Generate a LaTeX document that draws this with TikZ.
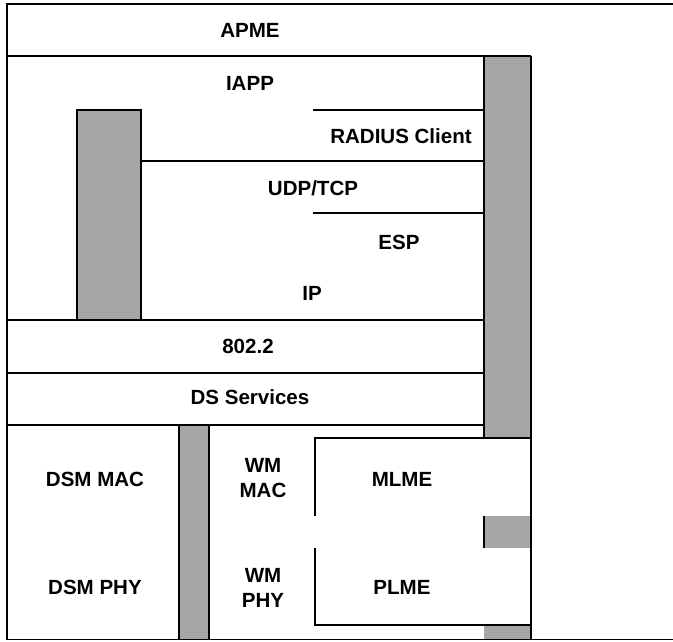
\documentclass[tikz,border=0pt]{standalone}
\usepackage{fontspec}
\setmainfont{Liberation Sans}
\usetikzlibrary{positioning}

\definecolor{barGray}{RGB}{166,166,166}

\begin{document}
\begin{tikzpicture}[
    x=0.025cm, y=-0.025cm,
    layer/.style={font=\bfseries\fontsize{14.6}{17.5}\selectfont, align=center, inner sep=0pt},
    bar/.style={fill=barGray},
    every path/.style={line width=1.2pt}
]
\useasboundingbox (0,0) rectangle (673,641);

% grey bars
\fill[bar] (484,56) rectangle (531,438);
\fill[bar] (77,110) rectangle (141,320);
\fill[bar] (179,425) rectangle (209,640);
\fill[bar] (484,516) rectangle (531,548);
\fill[bar] (484,625) rectangle (531,640);

% frame
\draw[line width=1.8pt] (7,640) -- (7,4) -- (673,4);
\draw (7,639.5) -- (673,639.5);

% upper layers
\draw (7,56) -- (531,56);
\draw (484,56) -- (484,438);
\draw (531,56) -- (531,640);
\draw (313,110) -- (484,110);
\draw (77,320) -- (77,110) -- (141,110) -- (141,320);
\draw (141,161) -- (484,161);
\draw (313,213) -- (484,213);
\draw (7,320) -- (484,320);
\draw (7,373) -- (484,373);
\draw (7,425) -- (484,425);

% lower part
\draw (179,425) -- (179,640);
\draw (209,425) -- (209,640);
\draw (315,516) -- (315,438) -- (531,438);
\draw (315,548) -- (315,625) -- (531,625);
\draw (484,516) -- (484,548);

\node[layer] (apme)   at (250,30)  {APME};
\node[layer] (iapp)   at (250,83)  {IAPP};
\node[layer] (radius) at (401,136) {RADIUS Client};
\node[layer] (udp)    at (313,188) {UDP/TCP};
\node[layer] (esp)    at (399,242) {ESP};
\node[layer] (ip)     at (312,293) {IP};
\node[layer] (llc)    at (248,346) {802.2};
\node[layer] (ds)     at (250,397) {DS Services};
\node[layer] (dsmmac) at (95,479)  {DSM MAC};
\node[layer] (dsmphy) at (95,587)  {DSM PHY};
\node[layer] (wmmac)  at (263,478) {WM\\MAC};
\node[layer] (wmphy)  at (263,588) {WM\\PHY};
\node[layer] (mlme)   at (402,479) {MLME};
\node[layer] (plme)   at (402,587) {PLME};

\end{tikzpicture}
\end{document}
